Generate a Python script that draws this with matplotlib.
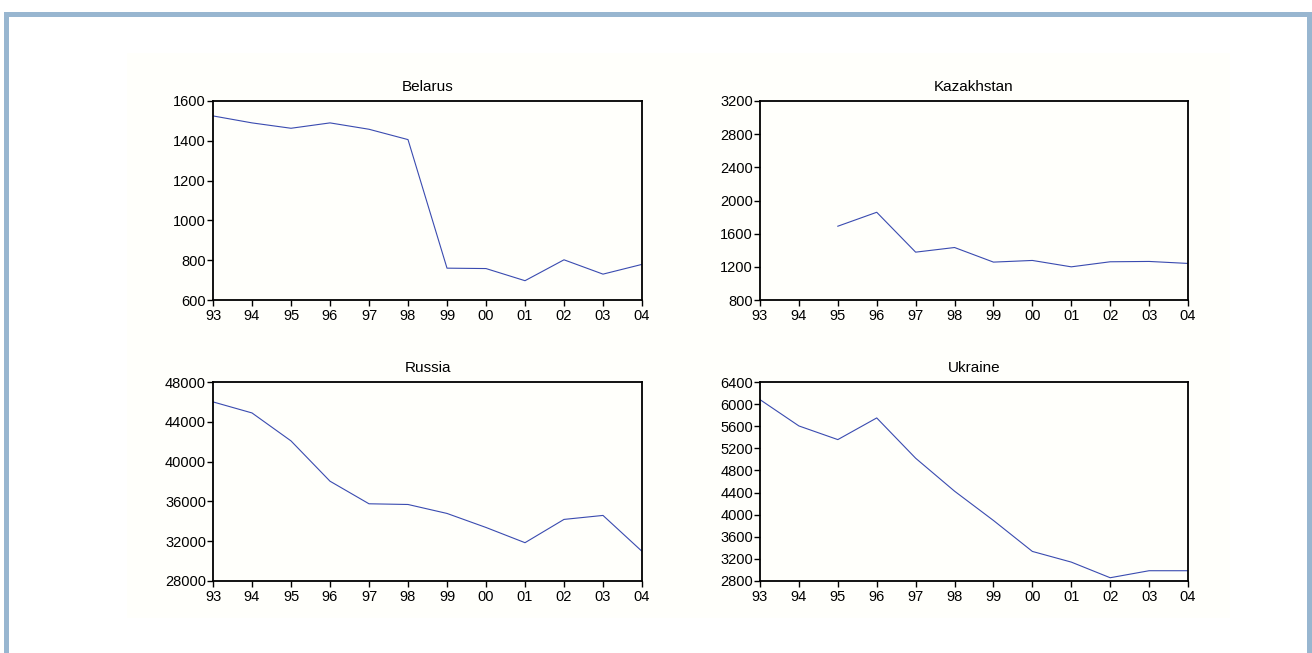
import numpy as np
import matplotlib.pyplot as plt
from matplotlib.patches import Rectangle

plt.rcParams['font.family'] = ['Liberation Sans', 'DejaVu Sans']

years = ['93', '94', '95', '96', '97', '98', '99', '00', '01', '02', '03', '04']

belarus = [1525, 1490, 1463, 1490, 1458, 1406, 760, 758, 697, 802, 730, 779]
kazakhstan = [np.nan, np.nan, 1690, 1858, 1377, 1433, 1257, 1277, 1200, 1261, 1265, 1241]
russia = [46000, 44890, 42080, 38030, 35760, 35690, 34790, 33380, 31850, 34190, 34590, 30980]
ukraine = [6081, 5605, 5358, 5750, 5021, 4425, 3895, 3335, 3142, 2859, 2986, 2986]

panels = [
    ('Belarus', belarus, [600, 800, 1000, 1200, 1400, 1600]),
    ('Kazakhstan', kazakhstan, [800, 1200, 1600, 2000, 2400, 2800, 3200]),
    ('Russia', russia, [28000, 32000, 36000, 40000, 44000, 48000]),
    ('Ukraine', ukraine, [2800, 3200, 3600, 4000, 4400, 4800, 5200, 5600, 6000, 6400]),
]

W, H = 1312, 653
fig = plt.figure(figsize=(W / 100, H / 100), dpi=100)

# pale cream plotting area and the blue frame (kept behind the axes)
fig.add_artist(Rectangle((127 / W, 1 - 618 / H), (1230 - 127) / W, (618 - 53) / H,
                         transform=fig.transFigure, facecolor='#fffffb', edgecolor='none', zorder=-10))
frame_col = '#98b6d0'
for rect in [(4, 12, 5, 653), (4, 12, 1308, 5), (1307, 12, 5, 653)]:
    px, py, pw, ph = rect
    fig.add_artist(Rectangle((px / W, 1 - (py + ph) / H), pw / W, ph / H,
                             transform=fig.transFigure, facecolor=frame_col,
                             edgecolor='none', zorder=-9))

# axes boxes in pixels: left, top, right, bottom
boxes = [(213, 101, 642, 300), (760, 101, 1188, 300),
         (213, 382, 642, 581), (760, 382, 1188, 581)]

x = np.arange(len(years))
for (title, vals, yt), (l, t, r, b) in zip(panels, boxes):
    ax = fig.add_axes([l / W, 1 - b / H, (r - l) / W, (b - t) / H])
    ax.patch.set_alpha(0)
    ax.plot(x, vals, color='#3a4bb0', lw=0.8)
    ax.set_xlim(0, len(years) - 1)
    ax.set_ylim(yt[0], yt[-1])
    ax.set_yticks(yt)
    ax.set_xticks(x)
    ax.set_xticklabels(years)
    ax.set_title(title, fontsize=11, pad=7)
    ax.tick_params(direction='out', length=4, width=1, labelsize=10.5,
                   top=False, right=False)
    ax.tick_params(axis='x', pad=2.5)
    ax.tick_params(axis='y', pad=1)
    for s in ax.spines.values():
        s.set_linewidth(1.3)

fig.savefig('out.png', dpi=100)
